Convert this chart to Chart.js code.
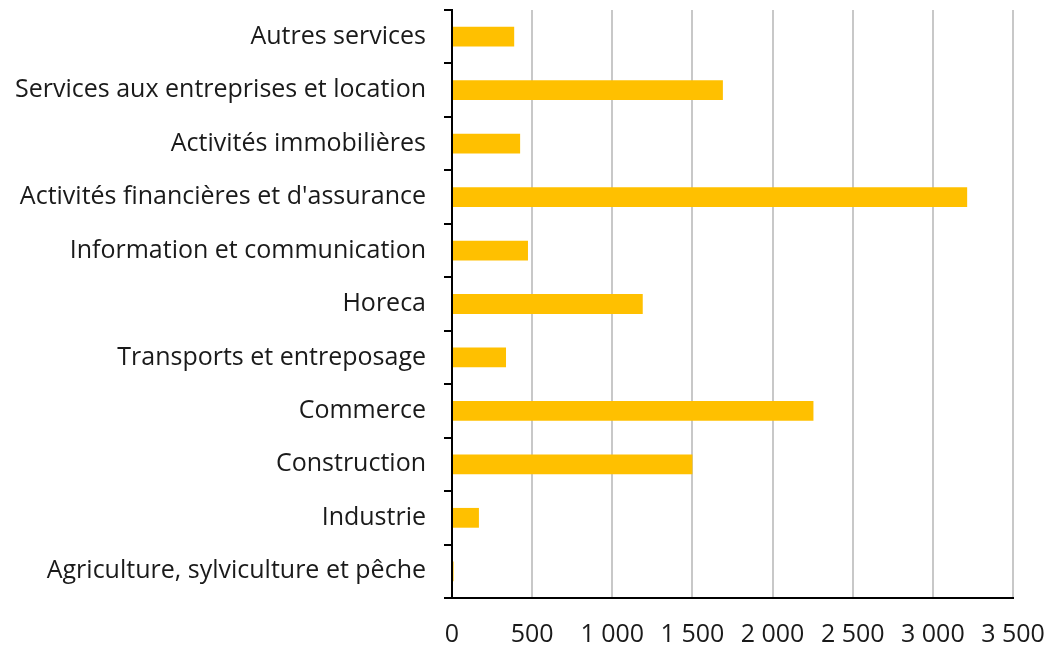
<!DOCTYPE html>
<html>
<head>
<meta charset="utf-8">
<script src="https://cdn.jsdelivr.net/npm/chart.js@4"></script>
<style>
    html, body { margin: 0; padding: 0; background: #fff; }
    #wrap { width: 1049px; height: 645px; }
</style>
</head>
<body>
<div id="wrap"><canvas id="chart"></canvas></div>
<script>
// catégories, de haut en bas
const categories = [
    'Autres services',
    'Services aux entreprises et location',
    'Activités immobilières',
    'Activités financières et d\'assurance',
    'Information et communication',
    'Horeca',
    'Transports et entreposage',
    'Commerce',
    'Construction',
    'Industrie',
    'Agriculture, sylviculture et pêche'
];
const values = [388, 1690, 425, 3214, 474, 1190, 337, 2255, 1500, 168, 10];
const xTicks = [0, 500, 1000, 1500, 2000, 2500, 3000, 3500];

function formatNumber(v) {
    return String(v).replace(/\B(?=(\d{3})+(?!\d))/g, ' ');
}

Chart.defaults.font.family = '"Open Sans", sans-serif';
Chart.defaults.font.size = 25;
Chart.defaults.color = '#1a1a1a';

new Chart(document.getElementById('chart'), {
    type: 'bar',
    data: {
        labels: categories,
        datasets: [{
            data: values,
            backgroundColor: '#FFC000',
            borderWidth: 0,
            barPercentage: 0.37,
            categoryPercentage: 1
        }]
    },
    options: {
        indexAxis: 'y',
        responsive: true,
        maintainAspectRatio: false,
        animation: false,
        layout: { padding: { top: 10, right: 36, bottom: 0, left: 0 } },
        plugins: {
            legend: { display: false },
            tooltip: { enabled: false }
        },
        scales: {
            x: {
                min: xTicks[0],
                max: xTicks[xTicks.length - 1],
                afterBuildTicks: scale => {
                    scale.ticks = xTicks.map(v => ({ value: v }));
                },
                afterFit: scale => {
                    scale.height = 47;
                    scale.paddingLeft = 0;
                    scale.paddingRight = 0;
                },
                ticks: {
                    padding: 22,
                    maxRotation: 0,
                    callback: v => formatNumber(v)
                },
                grid: {
                    color: '#c8c8c8',
                    lineWidth: 2,
                    drawTicks: false
                },
                border: { display: true, color: '#000', width: 2 }
            },
            y: {
                afterFit: scale => {
                    scale.width = 452;
                    scale.paddingTop = 0;
                    scale.paddingBottom = 0;
                },
                ticks: { padding: 18 },
                grid: {
                    drawOnChartArea: false,
                    drawTicks: true,
                    tickLength: 8,
                    color: '#000',
                    lineWidth: 2
                },
                border: { display: true, color: '#000', width: 2 }
            }
        }
    }
});
</script>
</body>
</html>
